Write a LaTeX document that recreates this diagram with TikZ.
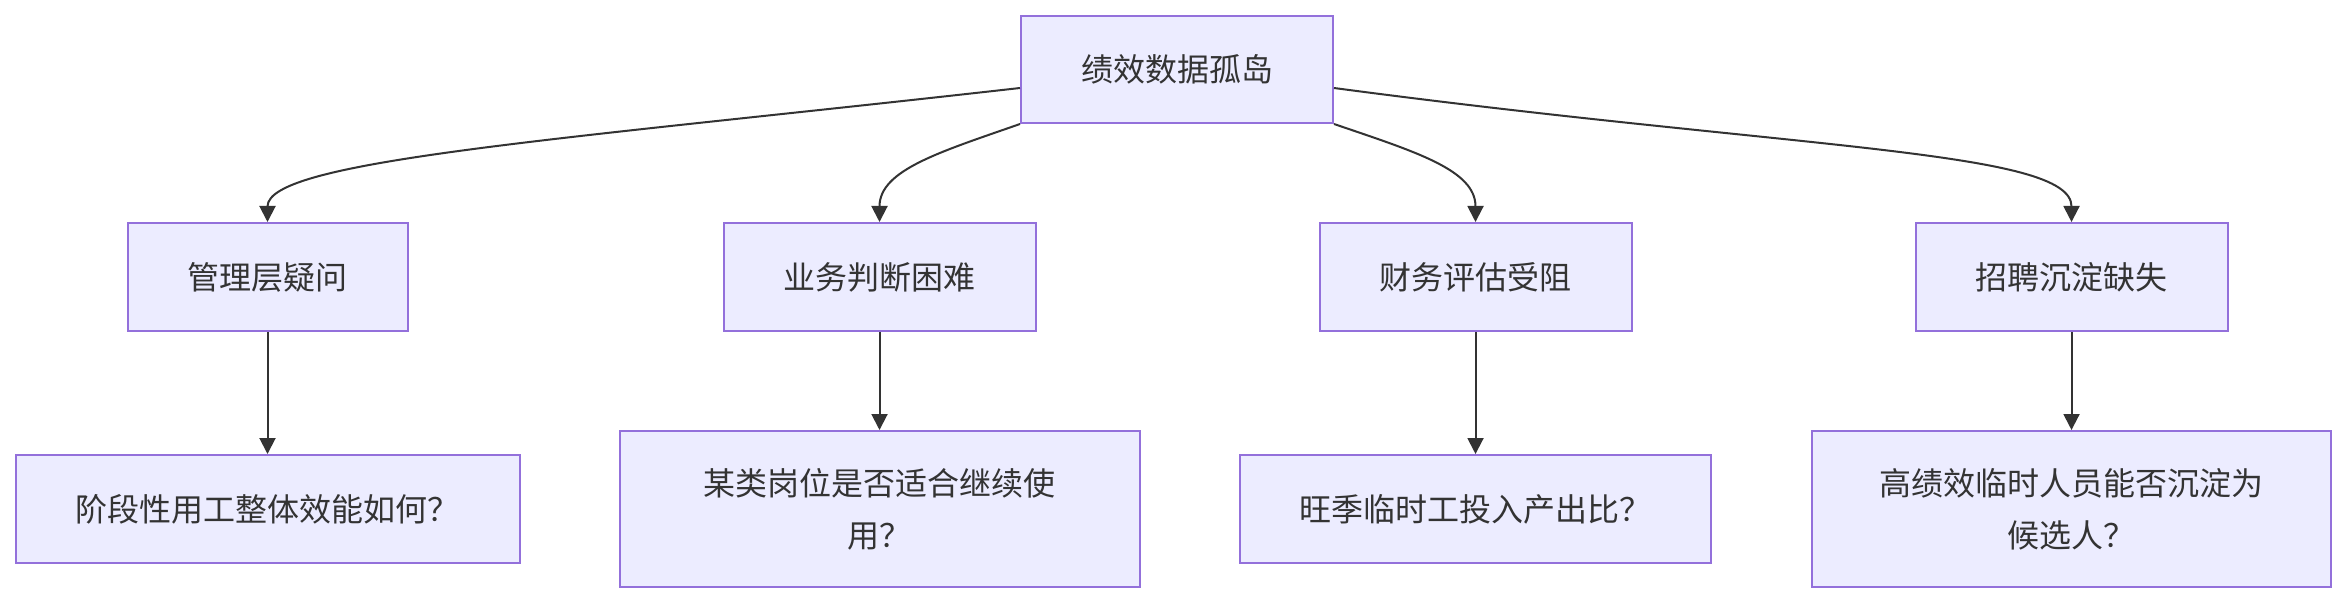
\documentclass[tikz,border=0pt]{standalone}
\usepackage{fontspec}
\newfontfamily\cjk{Noto Sans CJK SC}
\definecolor{NodeFill}{HTML}{ECECFF}
\definecolor{NodeEdge}{HTML}{9370DB}
\definecolor{InkGray}{HTML}{333333}
\usepackage{tikz}
\usetikzlibrary{arrows.meta,positioning}

\begin{document}
\begin{tikzpicture}[x=0.5pt,y=-0.5pt,
box/.style={draw=NodeEdge,fill=NodeFill,line width=1pt,text=InkGray,inner sep=0pt,align=center,font=\cjk\fontsize{16}{26}\selectfont,minimum width=156pt,minimum height=54pt},
tall/.style={box,minimum height=78pt},
arr/.style={-{Triangle[length=8pt,width=8pt]},line width=1pt,draw=InkGray}
]
\path[fill=white] (0,0) rectangle (2348,604);
% root
\node[box,minimum height=53.5pt] (silo) at (1177,69.5) {绩效数据孤岛};
% second row: who is hit
\node[box,minimum width=140pt] (mgmt) at (267.5,277) {管理层疑问};
\node[box] (biz) at (879.5,277) {业务判断困难};
\node[box] (fin) at (1475.5,277) {财务评估受阻};
\node[box] (hire) at (2071.5,277) {招聘沉淀缺失};
% third row: open questions
\node[box,minimum width=252pt] (qmgmt) at (267.5,509) {阶段性用工整体效能如何？};
\node[tall,minimum width=260pt] (qbiz) at (879.5,509) {某类岗位是否适合继续使\\用？};
\node[box,minimum width=235.5pt] (qfin) at (1475.5,509) {旺季临时工投入产出比？};
\node[tall,minimum width=259.5pt] (qhire) at (2071.5,509) {高绩效临时人员能否沉淀为\\候选人？};
% edges from the root
\draw[arr] ([yshift=-9.25pt]silo.west) .. controls (560,140) and (267.5,160) .. (mgmt.north);
\draw[arr] (silo.south west) .. controls (940,152) and (879.5,170) .. (biz.north);
\draw[arr] (silo.south east) .. controls (1416,152) and (1475.5,170) .. (fin.north);
\draw[arr] ([yshift=-9.25pt]silo.east) .. controls (1800,150) and (2071.5,150) .. (hire.north);
% straight drops
\draw[arr] (mgmt) -- (qmgmt);
\draw[arr] (biz) -- (qbiz);
\draw[arr] (fin) -- (qfin);
\draw[arr] (hire) -- (qhire);
\end{tikzpicture}
\end{document}
